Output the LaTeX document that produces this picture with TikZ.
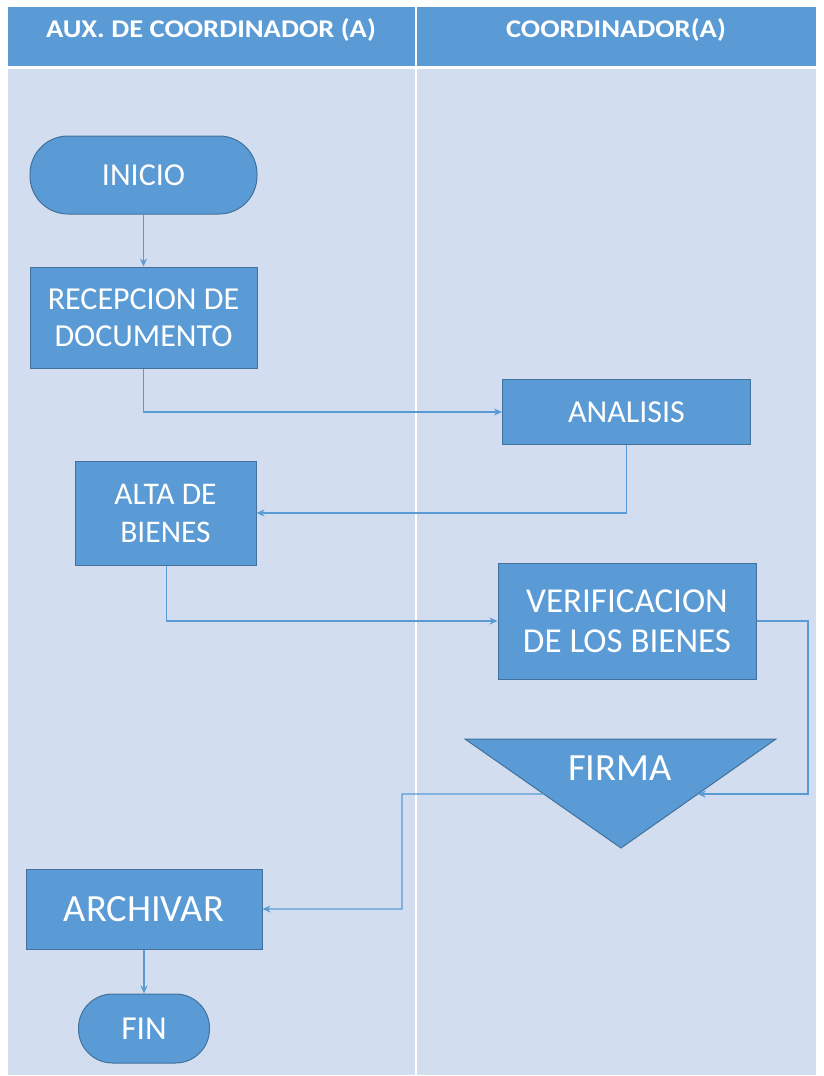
\documentclass[tikz,border=0pt]{standalone}
\usepackage{fontspec}
\setmainfont{Carlito}
\usetikzlibrary{arrows.meta,calc}
\definecolor{hdr}{HTML}{5B9BD5}
\definecolor{bodybg}{HTML}{D2DEEF}
\definecolor{nodeborder}{HTML}{41719C}
\definecolor{linec}{HTML}{5B9BD5}
\begin{document}
\begin{tikzpicture}[x=1pt,y=-1pt,
  box/.style={draw=nodeborder, line width=1pt, fill=hdr, text=white, align=center, inner sep=0pt},
  term/.style={box, rounded corners=#1},
  hdrtext/.style={text=white, xscale=1.12, font=\bfseries\fontsize{25.5}{30}\selectfont},
  flow/.style={draw=linec, line width=1.3pt, -{Stealth[length=8pt,width=7pt]}},
  plain/.style={draw=linec, line width=1.3pt}]
\useasboundingbox (0,0) rectangle (823,1076);
% background
\fill[white] (0,0) rectangle (823,1076);
\fill[hdr] (8,7) rectangle (816,66);
\fill[bodybg] (8,69) rectangle (816,1075);
\draw[white, line width=2pt] (416,7) -- (416,66);
\draw[white, line width=2pt] (416,69) -- (416,1075);
\node[hdrtext] (h1) at (211,30) {AUX. DE COORDINADOR (A)};
\node[hdrtext] (h2) at (616,30) {COORDINADOR(A)};
% nodes
\node[term=38pt, minimum width=227pt, minimum height=78pt, font=\fontsize{32}{37}\selectfont] (inicio) at (143.5,175) {INICIO};
\node[box, minimum width=227pt, minimum height=101pt, font=\fontsize{32}{37}\selectfont] (recep) at (143.5,317.5) {RECEPCION DE\\DOCUMENTO};
\node[box, minimum width=248pt, minimum height=65pt, font=\fontsize{32}{37}\selectfont] (analisis) at (626.5,412) {ANALISIS};
\node[box, minimum width=181pt, minimum height=104pt, font=\fontsize{31.5}{38}\selectfont] (alta) at (165.5,513) {ALTA DE\\BIENES};
\node[box, minimum width=258pt, minimum height=116pt, font=\fontsize{35}{40}\selectfont] (verif) at (627,621) {VERIFICACION\\DE LOS BIENES};
% triangle
\coordinate (tl) at (465,739);
\coordinate (tr) at (776,739);
\coordinate (tb) at (621,848);
\filldraw[fill=hdr, draw=nodeborder, line width=1pt, line join=miter] (tl) -- (tr) -- (tb) -- cycle;
\node[text=white, font=\fontsize{38.5}{40}\selectfont] (firma) at (620,768) {FIRMA};
\coordinate (firmaR) at ($(tr)!0.505!(tb)$);
\coordinate (firmaL) at ($(tl)!0.505!(tb)$);
\node[box, minimum width=236pt, minimum height=80pt, font=\fontsize{38.5}{40}\selectfont] (archivar) at (144,909) {ARCHIVAR};
\node[term=34pt, minimum width=131pt, minimum height=69pt, font=\fontsize{33.5}{37}\selectfont] (fin) at (144,1028.5) {FIN};
% connectors
\draw[flow] (inicio.south) -- (recep.north);
\draw[flow] (recep.south) |- (analisis.west);
\draw[flow] (analisis.south) |- (alta.east);
\draw[flow] ([xshift=1pt]alta.south) |- (verif.west);
\coordinate (c1) at (808,621);
\draw[flow] (verif.east) -- (c1) |- (firmaR);
\coordinate (c2) at (402,794);
\draw[flow] (firmaL) -- (c2) |- (archivar.east);
\draw[flow] (archivar.south) -- (fin.north);
\end{tikzpicture}
\end{document}
